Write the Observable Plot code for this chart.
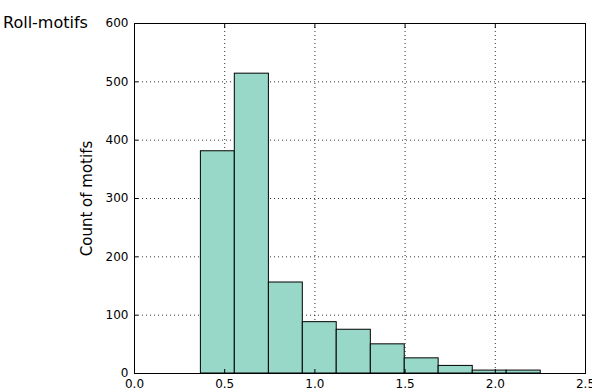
<!DOCTYPE html>
<html>
<head>
<meta charset="utf-8">
<script src="https://cdn.jsdelivr.net/npm/d3@7"></script>
<script src="https://cdn.jsdelivr.net/npm/@observablehq/plot@0.6"></script>
<style>
  html, body { margin: 0; padding: 0; background: #fff; }
  #wrap { position: relative; width: 592px; height: 392px; font-family: "DejaVu Sans", sans-serif; }
  #title { position: absolute; left: 3px; top: 13px; font-size: 16px; color: #000; }
  #wrap svg { position: absolute; left: 0; top: 0; }
</style>
</head>
<body>
<div id="wrap"><div id="title">Roll-motifs</div></div>
<script>
const binEdges = [0.368, 0.556, 0.745, 0.933, 1.121, 1.310, 1.498, 1.686, 1.875, 2.063, 2.252];
const counts = [381, 514, 156, 88, 75, 50, 26, 13, 5, 5];
const xTicks = [0, 0.5, 1.0, 1.5, 2.0, 2.5];
const yTicks = [0, 100, 200, 300, 400, 500, 600];
const yLabel = "Count of motifs";

const bins = counts.map((c, i) => ({x1: binEdges[i], x2: binEdges[i + 1], count: c}));

const chart = Plot.plot({
  width: 592,
  height: 392,
  marginLeft: 134,
  marginRight: 7,
  marginTop: 23,
  marginBottom: 19,
  style: {fontFamily: "DejaVu Sans, sans-serif", fontSize: "12px", color: "#000", background: "transparent"},
  x: {domain: [0, 2.5]},
  y: {domain: [0, 600]},
  marks: [
    Plot.gridX(xTicks, {stroke: "#000", strokeOpacity: 0.8, strokeDasharray: "1,3"}),
    Plot.gridY(yTicks, {stroke: "#000", strokeOpacity: 0.8, strokeDasharray: "1,3"}),
    Plot.rectY(bins, {x1: "x1", x2: "x2", y: "count", fill: "#98d8c8", stroke: "#000", strokeWidth: 1}),
    Plot.axisX(xTicks, {tickSize: -4, tickPadding: 10, tickFormat: d3.format(".1f"), label: null, fontSize: 12}),
    Plot.axisX(xTicks, {anchor: "top", tickSize: -4, tickFormat: () => "", label: null}),
    Plot.axisY(yTicks, {tickSize: -4, tickPadding: 10, label: null, fontSize: 12}),
    Plot.axisY(yTicks, {anchor: "right", tickSize: -4, tickFormat: () => "", label: null}),
    Plot.text([yLabel], {frameAnchor: "left", text: d => d, rotate: -90, dx: -47, fontSize: 15, fill: "#000", lineAnchor: "middle", textAnchor: "middle"}),
    Plot.frame({stroke: "#000", strokeWidth: 1})
  ]
});
document.getElementById("wrap").appendChild(chart);
</script>
</body>
</html>
